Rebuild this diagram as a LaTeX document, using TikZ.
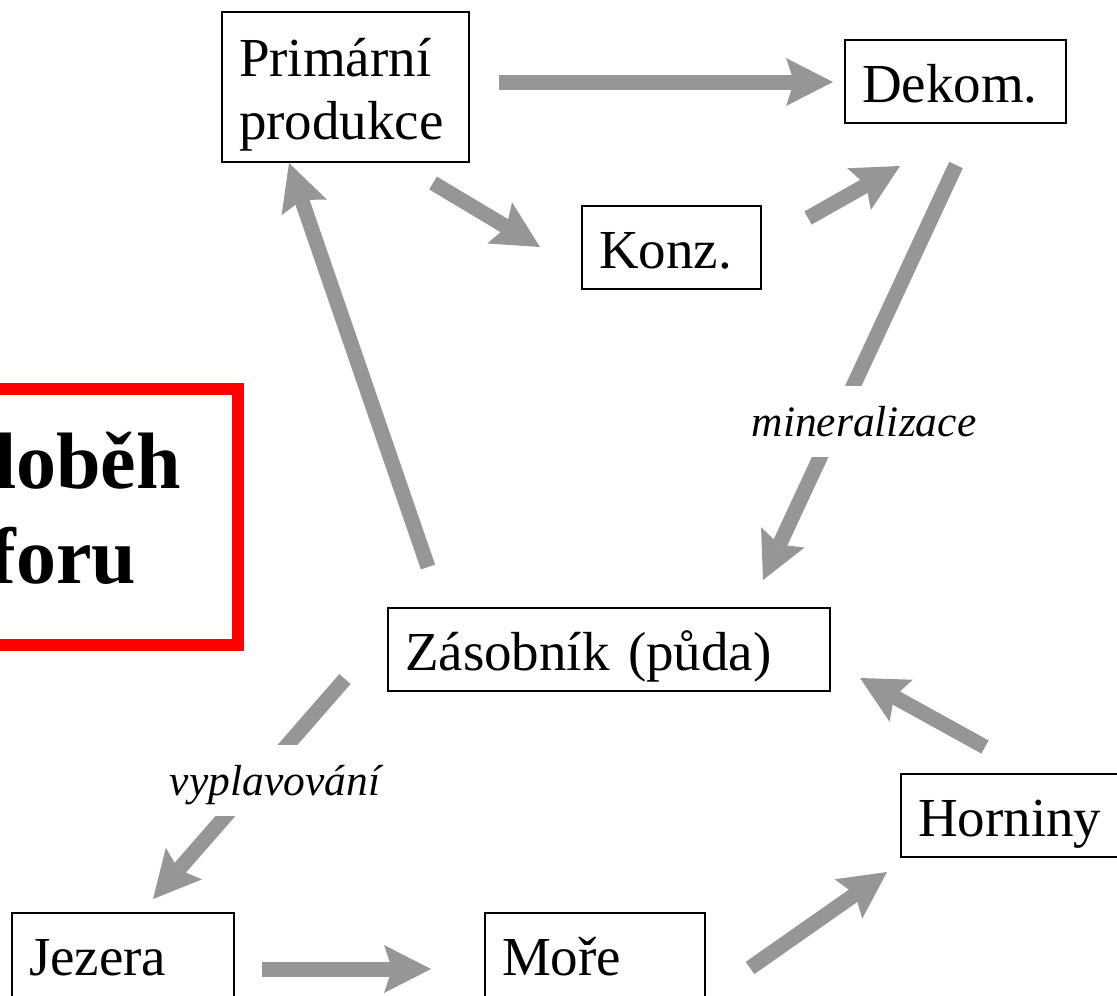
\documentclass[tikz,border=0pt]{standalone}
\usepackage{fontspec}
\setmainfont{Liberation Serif}
\usetikzlibrary{arrows.meta}
\definecolor{arrowgray}{RGB}{150,150,150}
\definecolor{boxred}{RGB}{255,0,0}
\begin{document}
\begin{tikzpicture}[x=1pt,y=-1pt,
  stage/.style={draw=black, line width=1.5pt, outer sep=0pt, anchor=north west,
    inner xsep=17pt, inner ysep=8pt, align=left, text height=54pt, text depth=13pt,
    font=\fontsize{55}{63}\selectfont},
  flow/.style={draw=arrowgray, line width=15pt,
    -{Stealth[length=47pt,width=48pt,inset=8pt,line width=0pt]}},
  flowlabel/.style={fill=white, anchor=base, outer sep=0pt, inner xsep=4pt, inner ysep=8pt,
    text height=42pt, text depth=13pt, font=\fontsize{43.5}{50}\selectfont\itshape},
]
\useasboundingbox (0,0) rectangle (1117,996);
\clip (0,0) rectangle (1117,996);

% arrow end points
\coordinate (a1s) at (499,82);   \coordinate (a1e) at (833,82);
\coordinate (a2s) at (433,183);  \coordinate (a2e) at (540,247);
\coordinate (a3s) at (808,218);  \coordinate (a3e) at (900,166);
\coordinate (a4s) at (956,165);  \coordinate (a4e) at (763,580);
\coordinate (a5s) at (428,567);  \coordinate (a5e) at (289,163);
\coordinate (a6s) at (345,679);  \coordinate (a6e) at (153,899);
\coordinate (a7s) at (262,969);  \coordinate (a7e) at (431,969);
\coordinate (a8s) at (750,968);  \coordinate (a8e) at (887,872);
\coordinate (a9s) at (985,747);  \coordinate (a9e) at (860,678);

% connectors
\draw[flow] (a1s) -- (a1e);
\draw[flow] (a2s) -- (a2e);
\draw[flow] (a3s) -- (a3e);
\draw[flow] (a4s) -- (a4e);
\draw[flow] (a5s) -- (a5e);
\draw[flow] (a6s) -- (a6e);
\draw[flow] (a7s) -- (a7e);
\draw[flow] (a8s) -- (a8e);
\draw[flow] (a9s) -- (a9e);

% connector labels
\node[flowlabel] (lmin) at (864,436) {mineralizace};
\node[flowlabel] (lvyp) at (275,795) {vyplavování};

% boxes
\node[stage, text height=119pt, text depth=15pt] (prim) at (222,12)
  {\parbox[b]{213pt}{\raggedright Primární\\produkce}};
\node[stage, text width=187pt] (dek) at (845,40) {Dekom.};
\node[stage, text width=145pt] (konz) at (582,206) {Konz.};
\node[stage, text width=408pt] (zas) at (388,608) {Zásobník (půda)};
\node[stage, text width=186pt] (horn) at (901,774) {Horniny};
\node[stage, text width=188pt, text depth=40pt] (jez) at (12,913) {Jezera};
\node[stage, text width=186pt, text depth=40pt] (more) at (485,913) {Moře};

% title box
\node[draw=boxred, line width=12pt, outer sep=0pt, anchor=north west,
  inner xsep=32pt, inner ysep=0pt, text height=99pt, text depth=157pt] (title) at (-140,389)
  {\parbox[t]{314pt}{\fontsize{80}{95}\selectfont\bfseries\phantom{Ko}loběh\\\phantom{fos}foru}};
\end{tikzpicture}
\end{document}
